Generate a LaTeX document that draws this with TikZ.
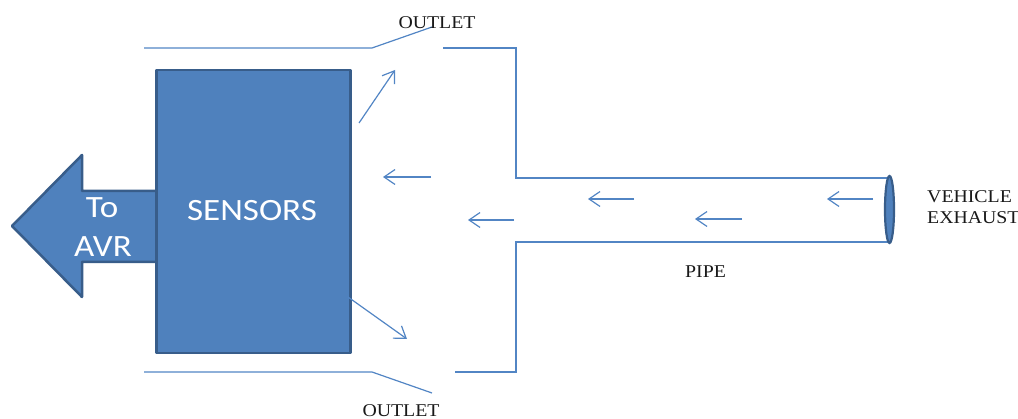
\documentclass[tikz,border=0pt]{standalone}
\usepackage{fontspec}
\usetikzlibrary{arrows.meta,shapes.geometric}
\newfontfamily\labelserif[FakeStretch=1.1]{Liberation Serif}
\newfontfamily\boxsans[FakeStretch=1.13]{Carlito}
\definecolor{officeblue}{HTML}{4F81BD}
\definecolor{officeedge}{HTML}{385D8A}
\definecolor{lineblue}{HTML}{5285C4}
\tikzset{
  wall/.style={draw=lineblue, line width=1.2pt, line join=miter},
  flow/.style={draw=lineblue, line width=1.2pt,
    -{Straight Barb[length=11pt, width=15pt, line width=1.2pt]}},
  solid block/.style={fill=officeblue, draw=officeedge, line width=2.5pt, line join=round},
  serif label/.style={inner sep=0pt, font=\labelserif\fontsize{18}{21}\selectfont, text=black!90},
  sans label/.style={inner sep=0pt, font=\boxsans\fontsize{31}{40}\selectfont, text=white}
}
\begin{document}
\begin{tikzpicture}[x=1pt, y=-1pt]
\useasboundingbox (0,0) rectangle (1018,419);

% block arrow pointing out of the sensor box
\draw[solid block] (12,226) -- (82,155) -- (82,191) -- (157,191) -- (157,262)
  -- (82,262) -- (82,297) -- cycle;

% sensor chamber box
\node[solid block, minimum width=194pt, minimum height=283pt, anchor=north west,
  inner sep=0pt] (sensors) at (155,69) {};
\node[sans label] (senstext) at (252,211) {SENSORS};
\node[sans label] (to) at (102,208) {To};
\node[sans label] (avr) at (103,247) {AVR};

% chamber walls with outlet flaps
\draw[wall] (144,48) -- (372,48) -- (432,27);
\draw[wall] (443,48) -- (516,48) -- (516,178) -- (888,178);
\draw[wall] (144,372) -- (372,372) -- (432,393);
\draw[wall] (455,372) -- (516,372) -- (516,242) -- (888,242);

% pipe inlet
\node[fill=officeblue, draw=officeedge, line width=2.2pt, ellipse, inner sep=0pt,
  minimum width=9pt, minimum height=67pt] (inlet) at (889.5,209.5) {};

% gas flow
\draw[flow] (873,199) -- (827,199);
\draw[flow] (742,219) -- (695,219);
\draw[flow] (634,199) -- (588,199);
\draw[flow] (514,220) -- (468,220);
\draw[flow] (431,177) -- (383,177);
\draw[flow] (359,123) -- (395,70);
\draw[flow] (348,297) -- (407,339);

% labels
\node[serif label] (outtop) at (437,22.5) {OUTLET};
\node[serif label] (outbot) at (401,411) {OUTLET};
\node[serif label] (pipe) at (705.5,271.5) {PIPE};
\node[serif label, align=left, anchor=north west] (exhaust) at (927,190)
  {VEHICLE\\EXHAUST};
\end{tikzpicture}
\end{document}
